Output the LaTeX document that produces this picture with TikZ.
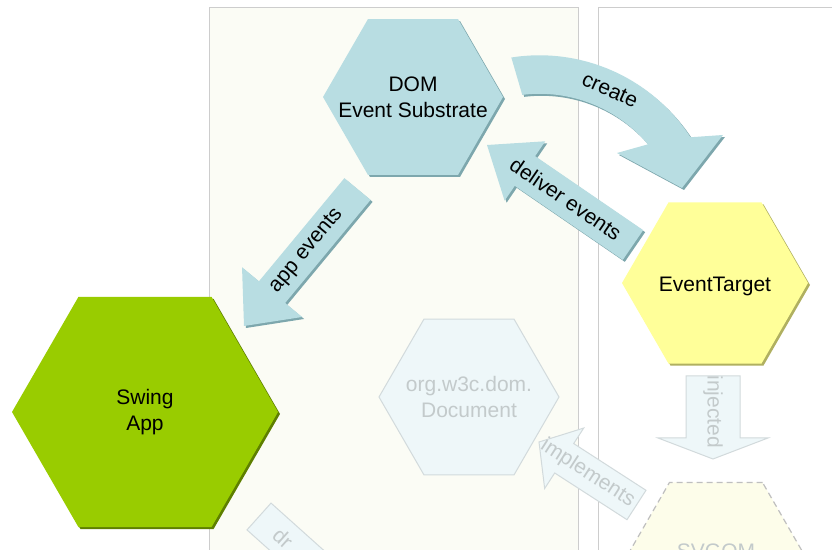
\documentclass[tikz,border=0pt]{standalone}
\usepackage{fontspec}
\setmainfont{Liberation Sans}
\usetikzlibrary{calc,shapes.geometric,shadows}

\definecolor{panelfill}{HTML}{FBFCF5}
\definecolor{panelline}{HTML}{CDCDCD}
\definecolor{domblue}{HTML}{B8DDE2}
\definecolor{domshade}{HTML}{7DA7AD}
\definecolor{swinggreen}{HTML}{99CC00}
\definecolor{swingshade}{HTML}{5E7F00}
\definecolor{targetyellow}{HTML}{FFFF99}
\definecolor{targetshade}{HTML}{B0B060}
\definecolor{fadefill}{HTML}{EEF7F9}
\definecolor{fadeline}{HTML}{D2DADC}
\definecolor{fadetext}{HTML}{C3CACB}
\definecolor{svgfill}{HTML}{FDFDEA}

% style, tail, tip, shaft half width, head half width, head length, label pos, label
\newcommand{\blockarrow}[8]{%
  \path ($(#3)!#6!(#2)$) coordinate (ahb);
  \path[#1 arrow] ($(#2)!#4!90:(#3)$) -- ($(ahb)!#4!90:(#3)$) -- ($(ahb)!#5!90:(#3)$) -- (#3)
    -- ($(ahb)!#5!-90:(#3)$) -- ($(ahb)!#4!-90:(#3)$) -- ($(#2)!#4!-90:(#3)$) -- cycle;
  \path (#2) -- (#3) node[#1 label,sloped,pos=#7] (#2Lbl) {#8};
}

\begin{document}
\begin{tikzpicture}[x=0.5pt,y=-0.5pt,font=\fontsize{10.5}{13}\selectfont,
  panel/.style={fill=panelfill,draw=panelline,line width=0.5pt},
  hex/.style={regular polygon,regular polygon sides=6,inner sep=0pt},
  hex text/.style={align=center,text=black,inner sep=0pt},
  bevel/.style={drop shadow={shadow xshift=1pt,shadow yshift=-1pt,fill=#1,opacity=1}},
  swing hex/.style={hex,minimum size=133pt,fill=swinggreen,bevel=swingshade},
  dom hex/.style={hex,minimum size=90pt,fill=domblue,bevel=domshade},
  target hex/.style={hex,minimum size=93pt,fill=targetyellow,bevel=targetshade},
  fade hex/.style={hex,minimum size=90pt,fill=fadefill,draw=fadeline,line width=0.5pt},
  svg hex/.style={hex,minimum size=93pt,fill=svgfill,draw=black!25,line width=0.6pt,dash pattern=on 3pt off 2pt},
  blue arrow/.style={fill=domblue,bevel=domshade},
  fade arrow/.style={fill=fadefill,draw=fadeline,line width=0.5pt},
  blue label/.style={text=black},
  fade label/.style={text=fadetext,align=center,inner sep=0pt}]

	\useasboundingbox (0,0) rectangle (832,550);
	\clip (0,0) rectangle (832,550);
	\fill[white] (0,0) rectangle (832,550);

	%panels
	\draw[panel] (209,8) rectangle (578,570);
	\draw[panel,fill=white] (598,8) rectangle (850,570);

	%arrow ends
	\coordinate (appTail) at (357.5,189);
	\coordinate (appTip) at (244,326);
	\coordinate (deliverTail) at (633,245);
	\coordinate (deliverTip) at (487,145);
	\coordinate (implTail) at (636.5,505);
	\coordinate (implTip) at (539,442);
	\coordinate (injTail) at (713,376);
	\coordinate (injTip) at (713,459);
	\coordinate (drTail) at (259,516.5);
	\coordinate (drTip) at (379,624);
	\coordinate (createC) at (539.5,235.3); %centre of the bend

	%create
	\path[blue arrow] ($(createC)+(-99:180)$) arc[start angle=-99,end angle=-33,radius=180]
	  -- (723,135) -- (682,188) -- (617,153) -- ($(createC)+(-40:141.5)$)
	  arc[start angle=-40,end angle=-97,radius=141.5] -- cycle;
	\node[blue label,rotate=-24] (createLbl) at (610,90) {create};

	%straight arrows
	\blockarrow{blue}{appTail}{appTip}{8.5pt}{19.5pt}{22pt}{0.45}{app events}
	\blockarrow{blue}{deliverTail}{deliverTip}{9pt}{18pt}{23pt}{0.46}{deliver events}
	\blockarrow{fade}{implTail}{implTip}{8.75pt}{18pt}{15pt}{0.5}{implements}
	\blockarrow{fade}{injTail}{injTip}{13.5pt}{27.5pt}{10.5pt}{0.43}{injected}
	\blockarrow{fade}{drTail}{drTip}{9pt}{18pt}{20pt}{0.2}{dr}

	%hexagons
	\node[swing hex] (swing) at (145,412) {};
	\node[dom hex] (dom) at (413,97) {};
	\node[target hex] (target) at (715,283) {};
	\node[fade hex] (document) at (469,397) {};
	\node[svg hex] (svgom) at (716,563) {};

	%hexagon texts
	\node[hex text] (swingLbl) at (swing) {Swing\\App};
	\node[hex text] (domLbl) at (dom) {DOM\\Event Substrate};
	\node[hex text] (targetLbl) at ([yshift=-1.5pt]target) {EventTarget};
	\node[fade label] (documentLbl) at (document) {org.w3c.dom.\\Document};
	\node[fade label] (svgomLbl) at (716,551) {SVGOM};

\end{tikzpicture}
\end{document}
